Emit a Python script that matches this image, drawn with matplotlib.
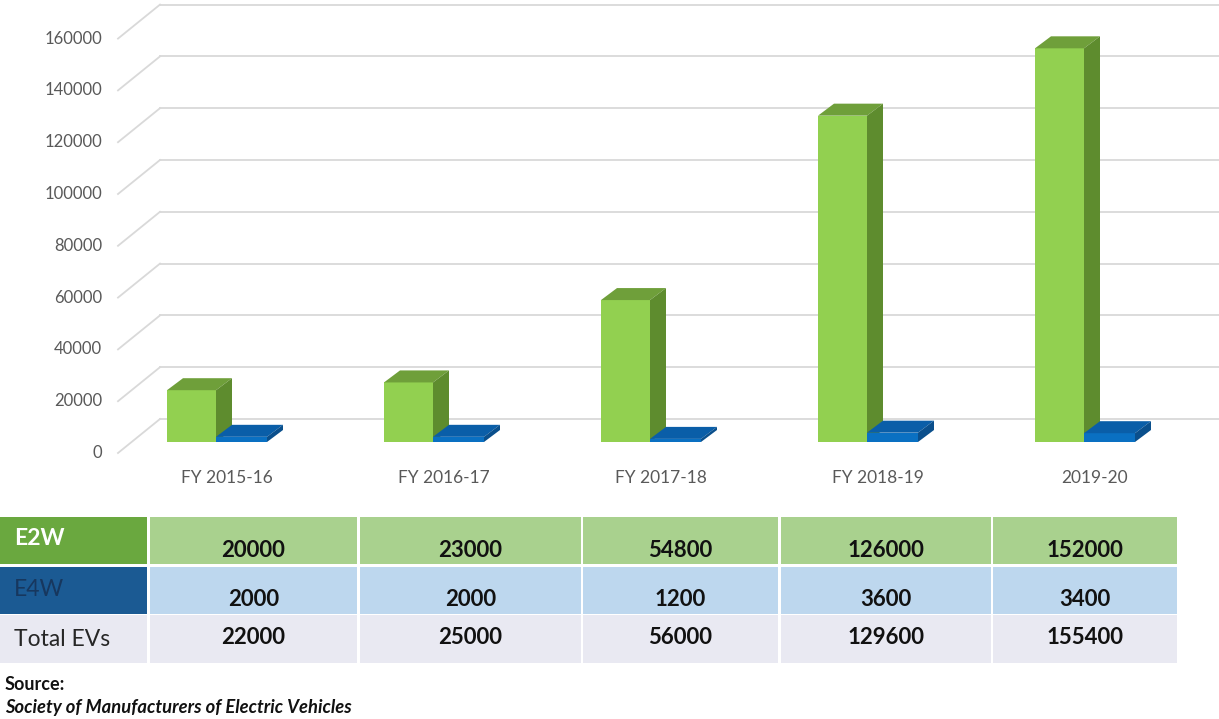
import numpy as np
import matplotlib.pyplot as plt
from matplotlib.patches import Polygon, Rectangle

plt.rcParams['font.family'] = ['Lato', 'DejaVu Sans']

##------------------------------------- DATA -------------------------------------
years = ['FY 2015-16', 'FY 2016-17', 'FY 2017-18', 'FY 2018-19', '2019-20']
e2w = [20000, 23000, 54800, 126000, 152000]
e4w = [2000, 2000, 1200, 3600, 3400]
total = [22000, 25000, 56000, 129600, 155400]
yticks = [0, 20000, 40000, 60000, 80000, 100000, 120000, 140000, 160000]

##------------------------------------- LAYOUT -------------------------------------
W, H = 1219, 719
fig = plt.figure(figsize=(W / 100, H / 100), dpi=100)

# chart axes covers the top 500 px of the figure
ax = fig.add_axes([0, 1 - 500 / H, 1, 500 / H])
px_cat = 217.0          # px per category
px_val = 0.00259        # px per unit of value
x0_px, y0_px = 216, 442  # front bottom of the bar pair boundary, cat 0
ax.set_xlim((0 - x0_px) / px_cat, (W - x0_px) / px_cat)
ax.set_ylim((y0_px - 500) / px_val, y0_px / px_val)
ax.axis('off')

PX = 1 / px_cat   # one pixel in x data units
PY = 1 / px_val   # one pixel in y data units

def box(x, w, h, depth_x, depth_y, front, top, side):
    # front face
    ax.add_patch(Rectangle((x, 0), w, h, facecolor=front, edgecolor='none', zorder=3))
    # top face
    ax.add_patch(Polygon([(x, h), (x + w, h), (x + w + depth_x, h + depth_y), (x + depth_x, h + depth_y)],
                         closed=True, facecolor=top, edgecolor='none', zorder=3))
    # side face
    ax.add_patch(Polygon([(x + w, 0), (x + w + depth_x, depth_y), (x + w + depth_x, h + depth_y), (x + w, h)],
                         closed=True, facecolor=side, edgecolor='none', zorder=3))

# back wall gridlines + side wall diagonals + tick labels
grid_c = '#d9d9d9'
for v in yticks:
    yb = v + 23 * PY
    yf = v - 11 * PY
    ax.plot([(160 - x0_px) * PX, (W - x0_px) * PX], [yb, yb], color=grid_c, lw=1.3, zorder=1)
    ax.plot([(118 - x0_px) * PX, (160 - x0_px) * PX], [yf, yb], color=grid_c, lw=1.3, zorder=1)
    ax.text((102 - x0_px) * PX, yf, str(v), ha='right', va='center', fontsize=12, color='#595959')

bw = 49 * PX
dx, dy = 16 * PX, 12 * PY
for i in range(len(years)):
    box(i - bw, bw, e2w[i], dx, dy, '#92d050', '#6f9f3a', '#5e8c2e')
    box(i, bw + 2 * PX, e4w[i], dx, dy, '#0a70c2', '#0a5ea8', '#0a4f8c')
    ax.text(i + 11 * PX, -36 * PY, years[i], ha='center', va='center', fontsize=12.5, color='#595959')

##------------------------------------- TABLE -------------------------------------
tb = fig.add_axes([0, 0, 1, 1], zorder=-1)
tb.set_xlim(0, W)
tb.set_ylim(H, 0)
tb.axis('off')

cols = [(0, 147), (150, 357), (360, 581), (583, 778), (781, 991), (993, 1177)]
rows = [(517, 564), (567, 614), (615, 663)]
head_c = ['#6aa83f', '#1b5a93', '#e9e9f2']
cell_c = ['#a9d18e', '#bdd7ee', '#e9e9f2']
head_txt = ['E2W', 'E4W', 'Total EVs']
head_tc = ['white', '#17375e', '#262626']
head_w = ['bold', 'normal', 'normal']
head_dy = [-2, -1, 0]
num_dy = [10, 9, -2]
values = [e2w, e4w, total]

for r, (y1, y2) in enumerate(rows):
    tb.add_patch(Rectangle((cols[0][0], y1), cols[0][1] - cols[0][0], y2 - y1, facecolor=head_c[r], edgecolor='none'))
    tb.text(14, (y1 + y2) / 2 + head_dy[r], head_txt[r], ha='left', va='center', fontsize=16.5,
            color=head_tc[r], fontweight=head_w[r])
    for c in range(1, len(cols)):
        xa, xb = cols[c]
        tb.add_patch(Rectangle((xa, y1), xb - xa, y2 - y1, facecolor=cell_c[r], edgecolor='none'))
        tb.text((xa + xb) / 2, (y1 + y2) / 2 + num_dy[r], str(values[r][c - 1]), ha='center', va='center',
                fontsize=16, fontweight='bold', color='#111111')

tb.text(5, 685, 'Source:', ha='left', va='center', fontsize=13, fontweight='bold', color='#111111')
tb.text(5, 708, 'Society of Manufacturers of Electric Vehicles', ha='left', va='center', fontsize=13.2,
        fontweight='bold', style='italic', color='#111111')

fig.savefig('out.png', dpi=100, facecolor='white')
